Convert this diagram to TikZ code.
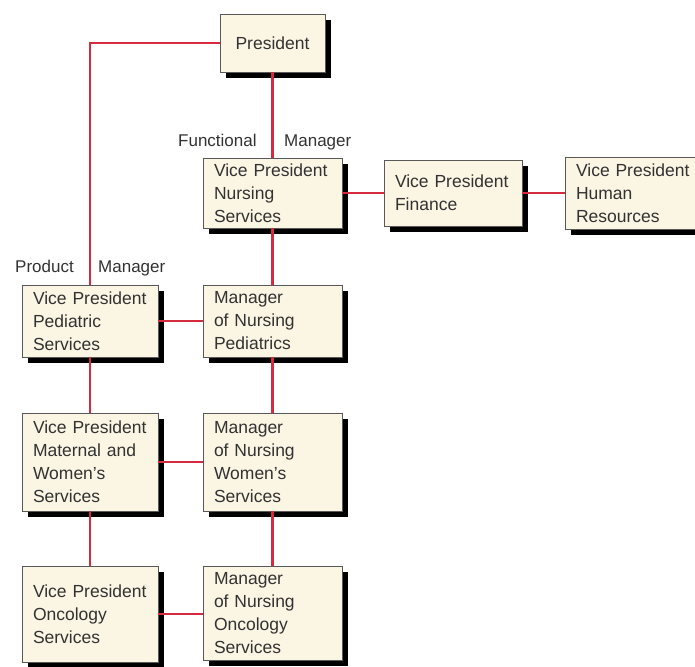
\documentclass[tikz,border=0pt]{standalone}
\usepackage{fontspec}
\setmainfont{Liberation Sans}
\usetikzlibrary{shadows}
\usetikzlibrary{positioning}
\definecolor{boxfill}{RGB}{251,245,228}
\definecolor{linkred}{RGB}{214,42,62}
\definecolor{txtgray}{RGB}{50,50,50}

\begin{document}
\begin{tikzpicture}[x=1pt,y=-1pt]
				\tikzset{orgbox/.style = {shape=rectangle,draw=black!65,fill=boxfill,
						line width=0.8pt,text=txtgray,align=left,inner xsep=11pt,
						inner ysep=2pt,font=\fontsize{17.5}{23}\selectfont,
						drop shadow={shadow xshift=6pt,shadow yshift=-6pt,fill=black,opacity=1}}}
				\tikzset{orgline/.style = {draw=linkred,line width=2.2pt}}
				\tikzset{tag/.style = {text=txtgray,font=\fontsize{17}{20}\selectfont,
						inner sep=0pt,anchor=base west}}
				
				\useasboundingbox (0,0) rectangle (695,666);
				
				% boxes
				\node[orgbox, text width=83pt, align=center, minimum height=58pt] (pres) at (272.5,43) {President};
				\node[orgbox, text width=117pt, minimum height=70pt] (nursvp) at (272.5,193) {Vice President\\Nursing\\Services};
				\node[orgbox, text width=116pt, minimum height=66pt] (finvp) at (453,193) {Vice President\\Finance};
				\node[orgbox, text width=116pt, minimum height=72pt] (hrvp) at (634,193) {Vice President\\Human\\Resources};
				
				\node[orgbox, text width=114pt, minimum height=72pt] (pedvp) at (90,321) {Vice President\\Pediatric\\Services};
				\node[orgbox, text width=117pt, minimum height=72pt] (pedmgr) at (272.5,321) {Manager\\of Nursing\\Pediatrics};
				\node[orgbox, text width=114pt, minimum height=98pt] (matvp) at (90,462) {Vice President\\Maternal and\\Women's\\Services};
				\node[orgbox, text width=117pt, minimum height=98pt] (wommgr) at (272.5,462) {Manager\\of Nursing\\Women's\\Services};
				\node[orgbox, text width=114pt, minimum height=96pt] (oncvp) at (90,614) {Vice President\\Oncology\\Services};
				\node[orgbox, text width=117pt, minimum height=94pt] (oncmgr) at (272.5,613) {Manager\\of Nursing\\Oncology\\Services};
				
				% labels
				\node[tag] (funclbl) at (178,146) {Functional};
				\node[tag] (funcmgr) at (284,146) {Manager};
				\node[tag] (prodlbl) at (15,272) {Product};
				\node[tag] (prodmgr) at (98,272) {Manager};
				
				%edges
				\draw[orgline] (pres.west) -| (pedvp.north);
				\draw[orgline] (pres) -- (nursvp);
				\draw[orgline] (nursvp) -- (finvp);
				\draw[orgline] (finvp) -- (hrvp);
				\draw[orgline] (nursvp) -- (pedmgr);
				\draw[orgline] (pedvp) -- (pedmgr);
				\draw[orgline] (pedvp) -- (matvp);
				\draw[orgline] (pedmgr) -- (wommgr);
				\draw[orgline] (matvp) -- (wommgr);
				\draw[orgline] (matvp) -- (oncvp);
				\draw[orgline] (wommgr) -- (oncmgr);
				\draw[orgline] (oncvp.east) -- (oncvp.east -| oncmgr.west);
				
\end{tikzpicture}
\end{document}
